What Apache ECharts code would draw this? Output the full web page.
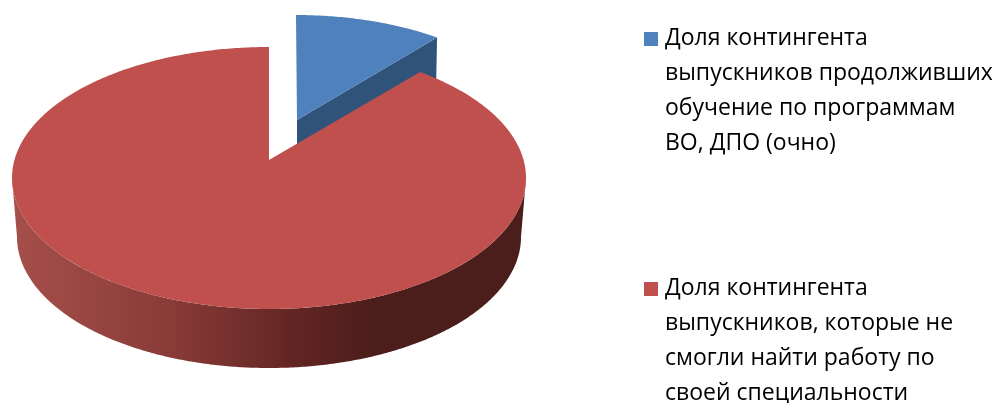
<!DOCTYPE html>
<html><head><meta charset="utf-8">
<style>html,body{margin:0;padding:0;background:#fff}#c{width:998px;height:403px}</style>
<script src="https://cdn.jsdelivr.net/npm/echarts@6/dist/echarts.min.js"></script>
</head><body><div id="c"></div>
<script>
const categories = [
  "Доля контингента\nвыпускников продолживших\nобучение по программам\nВО, ДПО (очно)",
  "Доля контингента\nвыпускников, которые не\nсмогли найти работу по\nсвоей специальности"
];
const shares = [10, 90];

const total = shares.reduce((a, b) => a + b, 0);
const TAU = Math.PI * 2;
const rimPoints = (g, from, to, drop, rx) => {
  const pts = [], n = Math.max(2, Math.ceil(Math.abs(to - from) / 0.01));
  for (let i = 0; i <= n; i++) {
    const t = from + (to - from) * i / n;
    pts.push([g.cx + (rx || g.rx) * Math.sin(t), g.cy - g.ry * Math.cos(t) + (drop || 0)]);
  }
  return pts;
};
const blueGeom = {cx: 296, cy: 133, rx: 240, ry: 118, ax: 297, ay: 120, depth: 50};
const redGeom  = {cx: 269, cy: 178, rx: 257, ry: 131, ax: 269, ay: 160, depth: 59, bottomRx: 252};

const renderBlue = () => {
  const end = TAU * shares[0] / total;
  const g = blueGeom, rim = rimPoints(g, 0, end);
  const c = rim[rim.length - 1];
  return {type: 'group', children: [
    {type: 'polygon', shape: {points: [[g.ax, g.ay], c, [c[0] - 1, c[1] + g.depth], [g.ax, g.ay + g.depth]]},
     style: {fill: '#2f5379'}},
    {type: 'polygon', shape: {points: [[g.ax, g.ay]].concat(rim)}, style: {fill: '#4f81bd'}}
  ]};
};
const renderRed = () => {
  const start = TAU * shares[0] / total;
  const g = redGeom, rim = rimPoints(g, start, TAU);
  const top = rimPoints(g, Math.PI / 2, Math.PI * 1.5);
  const bottom = rimPoints(g, Math.PI * 1.5, Math.PI / 2, g.depth, g.bottomRx);
  return {type: 'group', children: [
    {type: 'polygon', shape: {points: top.concat(bottom)},
     style: {fill: {type: 'linear', global: true, x: 12, y: 0, x2: 526, y2: 0, colorStops: [
       {offset: 0, color: '#a64f4b'}, {offset: 0.3, color: '#8a3c38'},
       {offset: 0.55, color: '#622523'}, {offset: 0.7, color: '#4b1e1c'}, {offset: 1, color: '#4b1e1c'}]}}},
    {type: 'polygon', shape: {points: [[g.ax, g.ay]].concat(rim)}, style: {fill: '#c0504d'}}
  ]};
};

const swatch = 'path://M0,0L0,0ZM0,11H14V25H0ZM16,140L16,140Z';
const chart = echarts.init(document.getElementById('c'), null, {renderer: 'canvas'});
chart.setOption({
  animation: false,
  backgroundColor: '#fff',
  legend: {
    orient: 'vertical', left: 644, top: 21, height: 600, padding: 0, itemGap: 110,
    itemWidth: 16, itemHeight: 140, selectedMode: false,
    data: [
      {name: categories[0], icon: swatch, itemStyle: {color: '#4f81bd'}},
      {name: categories[1], icon: swatch, itemStyle: {color: '#c0504d'}}
    ],
    textStyle: {fontFamily: 'Open Sans', fontSize: 23, lineHeight: 35, color: '#000'}
  },
  series: [
    {type: 'custom', name: categories[0], coordinateSystem: 'none', data: [shares[0]], renderItem: renderBlue, itemStyle: {color: '#4f81bd'}, silent: true},
    {type: 'custom', name: categories[1], coordinateSystem: 'none', data: [shares[1]], renderItem: renderRed, itemStyle: {color: '#c0504d'}, silent: true}
  ]
});
</script></body></html>
